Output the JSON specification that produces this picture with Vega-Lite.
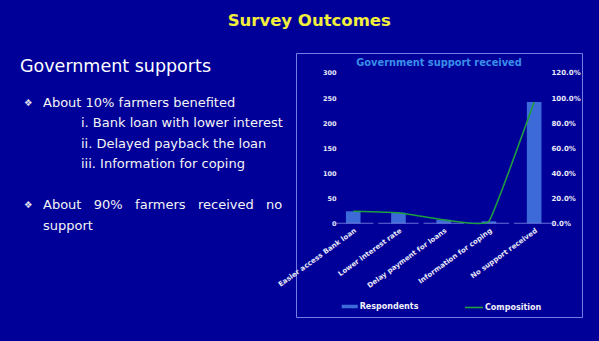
{
  "$schema": "https://vega.github.io/schema/vega-lite/v6.json",
  "background": "#000099",
  "padding": {"left": 20, "top": 13, "right": 20, "bottom": 26},
  "bounds": "flush",
  "spacing": 10,
  "title": {
    "text": "Survey Outcomes",
    "font": "DejaVu Sans",
    "fontSize": 16.5,
    "fontWeight": "bold",
    "color": "#f2ee3c",
    "anchor": "middle",
    "offset": 23,
    "dx": 8
  },
  "config": {
    "view": {"stroke": null},
    "font": "DejaVu Sans"
  },
  "hconcat": [
    {
      "width": 266,
      "height": 264,
      "title": {
        "text": "Government supports",
        "anchor": "start",
        "fontSize": 17.5,
        "fontWeight": "normal",
        "color": "#ffffff",
        "offset": -22
      },
      "data": {
        "values": [
          {"line": 1, "indent": 0, "bullet": true, "text": "About 10% farmers benefited"},
          {"line": 2, "indent": 1, "bullet": false, "text": "i. Bank loan with lower interest"},
          {"line": 3, "indent": 1, "bullet": false, "text": "ii. Delayed payback the loan"},
          {"line": 4, "indent": 1, "bullet": false, "text": "iii. Information for coping"},
          {"line": 6, "indent": 0, "bullet": true, "text": "About\u00a0\u00a0 90%\u00a0\u00a0 farmers\u00a0\u00a0 received\u00a0\u00a0 no"},
          {"line": 7, "indent": 0, "bullet": false, "text": "support"}
        ]
      },
      "encoding": {
        "x": {"field": "indent", "type": "quantitative", "scale": {"domain": [-0.605, 6.395], "nice": false, "zero": false}, "axis": null},
        "y": {"field": "line", "type": "quantitative", "scale": {"domain": [-1.424, 11.454], "nice": false, "zero": false, "reverse": true}, "axis": null}
      },
      "layer": [
        {
          "mark": {"type": "text", "align": "left", "baseline": "middle", "fontSize": 13, "color": "#f4f4f4"},
          "encoding": {"text": {"field": "text"}}
        },
        {
          "transform": [{"filter": "datum.bullet"}],
          "mark": {"type": "text", "align": "left", "baseline": "middle", "dx": -19, "text": "❖", "fontSize": 9.5, "color": "#e4e4f0"}
        }
      ]
    },
    {
      "width": 286,
      "height": 264,
      "view": {"stroke": "#6f7fe6", "strokeWidth": 1},
      "title": {
        "text": "Government support received",
        "fontSize": 9.8,
        "fontWeight": "bold",
        "color": "#3a8ee8",
        "anchor": "middle",
        "offset": -14.5
      },
      "data": {
        "values": [
          {"support": "Easier access Bank loan", "respondents": 24, "composition": 0.096},
          {"support": "Lower interest rate", "respondents": 21, "composition": 0.084},
          {"support": "Delay payment for loans", "respondents": 7, "composition": 0.028},
          {"support": "Information for coping", "respondents": 4, "composition": 0.016},
          {"support": "No support received", "respondents": 242, "composition": 0.968}
        ]
      },
      "encoding": {
        "x": {
          "field": "support",
          "type": "nominal",
          "sort": null,
          "scale": {"paddingInner": 0.677, "paddingOuter": 1.387, "align": 0.552, "round": false},
          "axis": {
            "orient": "bottom",
            "offset": -93.7,
            "title": null,
            "domain": false,
            "ticks": false,
            "labelAngle": -36,
            "labelPadding": 3,
            "labelFontSize": 7,
            "labelFontWeight": "bold",
            "labelColor": "#e8e8f6",
            "labelLimit": 200
          }
        }
      },
      "layer": [
        {
          "layer": [
            {
              "mark": {"type": "bar", "color": "#3c6ad8"},
              "encoding": {
                "y": {
                  "field": "respondents",
                  "type": "quantitative",
                  "scale": {"domain": [-187, 339.9], "nice": false},
                  "axis": {
                    "orient": "left",
                    "offset": -44,
                    "values": [0, 50, 100, 150, 200, 250, 300],
                    "title": null,
                    "domain": false,
                    "ticks": false,
                    "grid": false,
                    "labelPadding": 4,
                    "labelFontSize": 6.5,
                    "labelFontWeight": "bold",
                    "labelColor": "#e8e8f6"
                  }
                },
                "fill": {
                  "datum": "Respondents",
                  "type": "nominal",
                  "scale": {"range": ["#3c6ad8"]},
                  "legend": {
                    "orient": "none",
                    "legendX": 321.7,
                    "legendY": 245.5,
                    "title": null,
                    "padding": 0,
                    "symbolType": "M-1,-0.22H1V0.22H-1Z",
                    "symbolSize": 256,
                    "symbolStrokeWidth": 0,
                    "labelFontSize": 8,
                    "labelFontWeight": "bold",
                    "labelColor": "#f0f0f8",
                    "labelOffset": 2
                  }
                }
              }
            },
            {
              "mark": {"type": "tick", "size": 40.3, "thickness": 1, "color": "#8f9cf0"},
              "encoding": {"y": {"datum": 0, "type": "quantitative"}}
            }
          ]
        },
        {
          "mark": {"type": "line", "interpolate": "cardinal", "tension": 0.7, "strokeWidth": 1.6},
          "encoding": {
            "y": {
              "field": "composition",
              "type": "quantitative",
              "scale": {"domain": [-0.748, 1.3596], "nice": false},
              "axis": {
                "orient": "right",
                "offset": -33,
                "values": [0, 0.2, 0.4, 0.6, 0.8, 1.0, 1.2],
                "format": ".1%",
                "title": null,
                "domain": false,
                "ticks": false,
                "grid": false,
                "labelPadding": 2,
                "labelFontSize": 7,
                "labelFontWeight": "bold",
                "labelColor": "#e8e8f6"
              }
            },
            "stroke": {
              "datum": "Composition",
              "type": "nominal",
              "scale": {"range": ["#1e9e3e"]},
              "legend": {
                "orient": "none",
                "legendX": 444,
                "legendY": 244.5,
                "title": null,
                "padding": 0,
                "symbolType": "stroke",
                "symbolSize": 324,
                "symbolStrokeWidth": 1.6,
                "labelFontSize": 8,
                "labelFontWeight": "bold",
                "labelColor": "#f0f0f8",
                "labelOffset": 1
              }
            }
          }
        }
      ],
      "resolve": {"scale": {"y": "independent"}}
    }
  ]
}
